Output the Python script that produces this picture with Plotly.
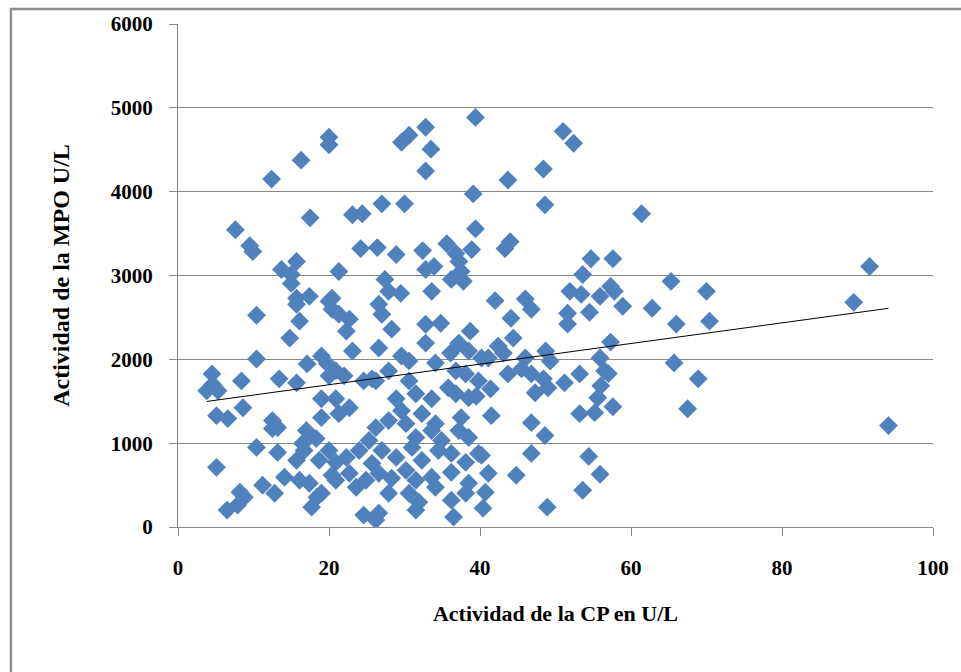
import plotly.graph_objects as go

# Actividad de la CP (U/L) and Actividad de la MPO (U/L)
cp = [
    39.4, 32.8, 51.0, 30.6, 20.0, 29.6, 20.0, 52.4, 33.5, 16.3, 48.4, 32.8, 12.4, 43.7, 39.1,
    27.0, 30.0, 48.6, 61.4, 17.5, 23.1, 24.4, 7.6, 39.4, 35.6, 44.0, 9.5, 9.9, 24.2, 26.4,
    28.9, 32.4, 36.8, 38.9, 43.3, 54.7, 57.6,
    13.7, 15.7, 15.0, 15.0, 21.3, 32.8, 33.9, 37.2, 37.5, 36.2, 37.8, 27.4, 27.9, 29.5,
    33.6, 15.7, 17.4, 20.4, 42.0, 46.0, 46.8,
    53.6, 51.9, 53.4, 55.9, 57.3, 57.8, 58.9, 51.6, 54.5, 51.6, 62.8, 65.3, 70.0, 66.0,
    70.4, 91.6, 89.5, 94.1, 57.3, 55.9, 56.5, 57.0, 53.2, 51.2, 56.0, 55.6, 57.6, 53.2,
    55.2, 65.7, 68.9, 67.5, 54.4, 55.9, 53.6, 48.9,
    44.1, 44.4, 42.4, 43.1, 41.1, 46.0, 48.7, 49.3, 43.7, 45.5, 46.8, 48.4, 49.0, 47.3,
    41.4, 39.5, 41.5, 46.8, 48.6, 40.2, 46.8, 41.1, 44.8, 40.7, 40.4,
    15.7, 16.1, 20.0, 20.4, 21.3, 22.7, 22.3, 14.8, 23.1, 10.4, 17.1, 19.0, 19.8, 20.9,
    22.0, 13.4, 15.7, 24.6, 25.7, 19.0, 20.9, 22.7, 19.0, 12.5, 12.5, 17.0, 18.3, 16.5,
    10.4, 13.2, 15.7, 16.7, 18.7, 20.0, 20.9, 20.4, 22.3, 24.0, 25.3, 25.7, 14.1, 16.1,
    17.4, 11.2, 12.8, 19.0, 17.7, 20.9, 22.7, 23.6, 24.9, 24.6, 26.2,
    5.1, 8.2, 8.8, 6.5, 7.9, 8.6, 8.4, 6.6, 5.1, 4.5, 3.8, 5.3, 10.4, 13.2, 18.4, 4.6,
    20.0, 21.3, 26.6,
    27.0, 28.3, 26.6, 32.8, 34.8, 32.8, 38.7, 37.2, 36.1, 38.5, 40.2, 34.1, 29.6, 30.6,
    27.9, 26.2, 36.8, 38.1, 39.8, 30.6, 31.5, 33.6, 35.8, 36.8, 38.5, 28.9, 29.6, 32.3,
    34.1, 37.5, 26.2, 27.9, 30.2, 31.5, 33.6, 34.9, 37.2, 38.5, 27.0, 28.9, 31.0, 32.3,
    34.5, 36.2, 38.1, 39.8, 26.6, 28.3, 30.2, 31.5, 33.6, 36.2, 38.5, 27.9, 30.6, 31.9,
    34.1, 36.2, 38.1, 26.6, 31.5, 36.5,
]
mpo = [
    4886, 4768, 4720, 4673, 4650, 4590, 4560, 4578, 4507, 4376, 4270, 4246, 4150, 4139, 3973,
    3855, 3855, 3843, 3736, 3688, 3724, 3736, 3546, 3558, 3380, 3404, 3356, 3285, 3321, 3333,
    3250, 3297, 3262, 3309, 3321, 3200, 3200,
    3072, 3167, 3012, 2906, 3048, 3072, 3108, 3167, 3048, 2953, 2930, 2953, 2811, 2787,
    2811, 2728, 2751, 2728, 2700, 2720, 2597,
    3012, 2811, 2775, 2751, 2870, 2811, 2633, 2550, 2562, 2420, 2609, 2930, 2811, 2420,
    2455, 3107, 2680, 1210, 2206, 2016, 1862, 1830, 1826, 1720, 1684, 1542, 1435, 1352,
    1364, 1957, 1767, 1411, 842, 629, 439, 237,
    2490, 2253, 2158, 2075, 2016, 2016, 2099, 1980, 1826, 1886, 1826, 1767, 1660, 1601,
    1648, 1560, 1328, 1245, 1091, 854, 878, 640, 617, 415, 225,
    2657, 2455, 2692, 2597, 2538, 2479, 2336, 2253, 2099, 2004, 1945, 2040, 1945, 1862,
    1803, 1767, 1720, 1743, 1767, 1530, 1530, 1423, 1305, 1269, 1174, 1150, 1055, 996,
    949, 890, 795, 913, 795, 913, 771, 617, 830, 913, 1032, 759, 593, 557,
    522, 498, 403, 403, 237, 557, 640, 474, 557, 142, 83,
    712, 415, 356, 202, 261, 1423, 1743, 1293, 1328, 1826, 1625, 1625, 2526, 1186, 356, 1700,
    1803, 1352, 2657,
    2538, 2360, 2135, 2419, 2431, 2194, 2336, 2194, 2075, 2099, 2016, 1957, 2040, 1981,
    1862, 1743, 1862, 1826, 1743, 1743, 1589, 1530, 1660, 1589, 1542, 1530, 1388, 1352,
    1233, 1305, 1186, 1269, 1233, 1067, 1150, 1032, 1150, 1067, 913, 830, 949, 795,
    913, 878, 771, 878, 640, 581, 676, 557, 593, 652, 522, 403, 403, 296,
    474, 320, 403, 166, 202, 119,
]

# Linear trendline: MPO = intercept + slope * CP
trend_intercept = 1451
trend_slope = 12.3

x_ticks = [0, 20, 40, 60, 80, 100]
y_ticks = [0, 1000, 2000, 3000, 4000, 5000, 6000]

tx = [min(cp), max(cp)]
ty = [trend_intercept + trend_slope * v for v in tx]

fig = go.Figure()
fig.add_trace(go.Scatter(
    x=cp, y=mpo, mode="markers",
    marker=dict(symbol="diamond", size=14.5, color="#4F81BD", line=dict(width=0)),
    showlegend=False, hoverinfo="x+y",
))
fig.add_trace(go.Scatter(
    x=tx, y=ty, mode="lines", line=dict(color="black", width=1),
    showlegend=False, hoverinfo="skip",
))

font_family = "Liberation Serif, Times New Roman, serif"
axis_col = "#868686"

fig.update_layout(
    width=961, height=672,
    margin=dict(l=178, r=20, t=21, b=145),
    paper_bgcolor="white", plot_bgcolor="white",
    font=dict(family=font_family, size=21, color="black"),
    xaxis=dict(
        range=[0, 100], tickvals=x_ticks, ticks="outside", ticklen=8, tickcolor=axis_col,
        showline=True, linecolor=axis_col, linewidth=1, showgrid=False, zeroline=False,
        tickfont=dict(family=font_family, size=21, weight="bold"), ticklabelstandoff=14,
        title=dict(text="Actividad de la CP en U/L", standoff=26,
                   font=dict(family=font_family, size=22, weight="bold")),
    ),
    yaxis=dict(
        range=[0, 6000], tickvals=y_ticks, ticks="outside", ticklen=8, tickcolor=axis_col,
        showline=True, linecolor=axis_col, linewidth=1, showgrid=True, gridcolor=axis_col,
        gridwidth=1, zeroline=False,
        tickfont=dict(family=font_family, size=21, weight="bold"), ticklabelstandoff=12,
        title=dict(text="Actividad de la MPO U/L", standoff=34,
                   font=dict(family=font_family, size=24, weight="bold")),
    ),
    shapes=[dict(type="rect", xref="paper", yref="paper",
                 x0=-0.2213, x1=1.2, y0=-0.5, y1=1.0296,
                 line=dict(color="#8C8C8C", width=2.5), fillcolor="rgba(0,0,0,0)",
                 layer="below")],
)

fig.write_html("out.html", config={"displayModeBar": False},
               post_script="document.body.style.margin='0px';")
